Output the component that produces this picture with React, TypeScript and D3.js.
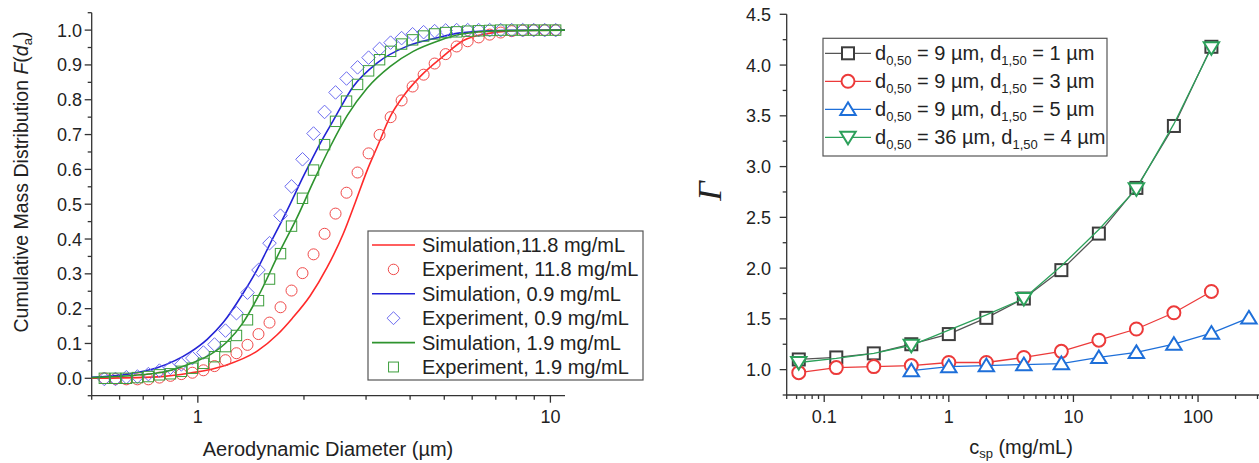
import React from 'react';
import * as d3 from 'd3';

// ---- left panel: cumulative mass distribution ----
const dExp = [0.543, 0.584, 0.627, 0.674, 0.724, 0.778, 0.836, 0.898, 0.965, 1.037, 1.115, 1.198, 1.287, 1.383,
  1.486, 1.597, 1.716, 1.844, 1.981, 2.129, 2.288, 2.458, 2.641, 2.838, 3.05, 3.277, 3.522, 3.784, 4.066, 4.369,
  4.695, 5.045, 5.421, 5.825, 6.259, 6.725, 7.227, 7.766, 8.344, 8.966, 9.634, 10.35];
const expRed = [0.0, -0.002, -0.003, -0.003, -0.003, 0.002, 0.007, 0.012, 0.016, 0.023, 0.035, 0.052, 0.072, 0.096,
  0.127, 0.16, 0.204, 0.252, 0.302, 0.356, 0.415, 0.473, 0.533, 0.591, 0.646, 0.699, 0.75, 0.798, 0.838, 0.872,
  0.904, 0.931, 0.953, 0.968, 0.979, 0.987, 0.993, 0.997, 0.999, 1.0, 1.0, 1.0];
const expBlue = [-0.002, -0.002, 0.003, 0.005, 0.012, 0.022, 0.03, 0.04, 0.058, 0.074, 0.097, 0.137, 0.187, 0.246,
  0.311, 0.388, 0.467, 0.551, 0.629, 0.703, 0.765, 0.821, 0.861, 0.893, 0.921, 0.946, 0.964, 0.977, 0.988, 0.994,
  0.997, 0.999, 1.0, 1.0, 1.0, 1.0, 1.0, 1.0, 1.0, 1.0, 1.0, 1.0];
const expGreen = [0.0, 0.0, 0.0, 0.002, 0.005, 0.01, 0.013, 0.02, 0.029, 0.043, 0.062, 0.091, 0.123, 0.168,
  0.223, 0.285, 0.358, 0.437, 0.517, 0.598, 0.671, 0.738, 0.796, 0.844, 0.883, 0.915, 0.939, 0.96, 0.972, 0.983,
  0.989, 0.993, 0.995, 0.997, 0.998, 0.999, 1.0, 1.0, 1.0, 1.0, 1.0, 1.0];

const simRedX = [0.5, 0.767, 0.951, 1.195, 1.483, 1.679, 1.852, 2.083, 2.328, 2.585, 2.796, 3.024, 3.228, 3.515,
  3.825, 4.276, 4.969, 5.663, 6.625, 8.22, 11.0];
const simRedY = [0.0, 0.004, 0.015, 0.037, 0.08, 0.125, 0.172, 0.237, 0.319, 0.415, 0.505, 0.598, 0.665, 0.752,
  0.81, 0.867, 0.925, 0.97, 0.99, 0.999, 1.0];
const simBlueX = [0.5, 0.614, 0.767, 0.951, 1.063, 1.18, 1.336, 1.474, 1.604, 1.793, 1.99, 2.224, 2.421, 2.76,
  3.228, 3.926, 4.778, 5.553, 7.211, 11.0];
const simBlueY = [0.003, 0.01, 0.03, 0.075, 0.112, 0.16, 0.24, 0.313, 0.387, 0.483, 0.579, 0.675, 0.74, 0.838,
  0.906, 0.954, 0.978, 0.992, 0.999, 1.0];
const simGreenX = [0.5, 0.767, 0.951, 1.084, 1.211, 1.344, 1.483, 1.713, 1.914, 2.125, 2.374, 2.654, 3.024, 3.515,
  4.083, 4.778, 5.553, 7.211, 11.0];
const simGreenY = [0.002, 0.015, 0.042, 0.068, 0.105, 0.16, 0.235, 0.367, 0.463, 0.564, 0.665, 0.755, 0.834, 0.896,
  0.939, 0.968, 0.988, 0.998, 1.0];

const leftLabels = ['Simulation,11.8 mg/mL', 'Experiment, 11.8 mg/mL', 'Simulation, 0.9 mg/mL',
  'Experiment, 0.9 mg/mL', 'Simulation, 1.9 mg/mL', 'Experiment, 1.9 mg/mL'];
const leftYTicks = [0, 0.1, 0.2, 0.3, 0.4, 0.5, 0.6, 0.7, 0.8, 0.9, 1.0];
const leftXTicks = [1, 10];

// ---- right panel: Gamma vs c_sp ----
const csp = [0.0625, 0.125, 0.25, 0.5, 1, 2, 4, 8, 16, 32, 64, 128, 256];
const gamma9_1 = [1.1, 1.12, 1.16, 1.25, 1.35, 1.51, 1.7, 1.98, 2.34, 2.79, 3.4, 4.18];
const gamma9_3 = [0.97, 1.02, 1.03, 1.04, 1.07, 1.07, 1.12, 1.18, 1.29, 1.4, 1.56, 1.77];
const gamma9_5 = [0.99, 1.03, 1.04, 1.05, 1.06, 1.12, 1.17, 1.25, 1.36, 1.51]; // from 0.5 mg/mL
const gamma36_4 = [1.07, 1.11, 1.16, 1.24, 1.39, 1.54, 1.7, 2.02, 2.38, 2.78, 3.42, 4.17];
const gamma36Marks = [0, 3, 6, 9, 11];
const rightYTicks = [1.0, 1.5, 2.0, 2.5, 3.0, 3.5, 4.0, 4.5];
const rightXTicks = [0.1, 1, 10, 100];
const rightLabels = [['0,50', '9', '1,50', '1'], ['0,50', '9', '1,50', '3'], ['0,50', '9', '1,50', '5'],
  ['0,50', '36', '1,50', '4']];

const SANS = '"Liberation Sans", Arial, sans-serif';

const xL = d3.scaleLog().domain([0.5, 11]).range([91.7, 565]);
const yL = d3.scaleLinear().domain([-0.05, 1.05]).range([395.7, 12.7]);
const xR = d3.scaleLog().domain([0.05, 300]).range([786.7, 1257.5]);
const yR = d3.scaleLinear().domain([0.75, 4.5]).range([395, 14.3]);

function Marker({ shape, x, y, color, s, sw = 1, fill = 'none' }) {
  if (shape === 'circle') return <circle cx={x} cy={y} r={s} fill={fill} stroke={color} strokeWidth={sw} />;
  if (shape === 'square')
    return <rect x={x - s} y={y - s} width={2 * s} height={2 * s} fill={fill} stroke={color} strokeWidth={sw} />;
  let p = '';
  if (shape === 'diamond') p = `M${x},${y - s}L${x + s},${y}L${x},${y + s}L${x - s},${y}Z`;
  if (shape === 'up') p = `M${x},${y - s}L${x + s * 1.1},${y + s * 0.8}L${x - s * 1.1},${y + s * 0.8}Z`;
  if (shape === 'down') p = `M${x},${y + s}L${x + s * 1.1},${y - s * 0.8}L${x - s * 1.1},${y - s * 0.8}Z`;
  return <path d={p} fill={fill} stroke={color} strokeWidth={sw} strokeLinejoin="miter" />;
}

export default function App() {
  const simLine = (xs, ys) =>
    d3.line<number>().x((_, i) => xL(xs[i])).y(v => yL(v)).curve(d3.curveMonotoneX)(ys);
  const rLine = (xs, ys) => d3.line<number>().x((_, i) => xR(xs[i])).y(v => yR(v))(ys);

  const leftMinorX = [0.5, 0.6, 0.7, 0.8, 0.9, 2, 3, 4, 5, 6, 7, 8, 9];
  const leftMinorY = d3.range(-0.05, 1.06, 0.1);
  const rightMinorX = [0.05, 0.06, 0.07, 0.08, 0.09, 0.2, 0.3, 0.4, 0.5, 0.6, 0.7, 0.8, 0.9, 2, 3, 4, 5, 6, 7, 8, 9,
    20, 30, 40, 50, 60, 70, 80, 90, 200, 300];
  const rightMinorY = d3.range(0.75, 4.3, 0.5);

  const sims = [
    { xs: simRedX, ys: simRedY, c: '#ff2a2a' },
    { xs: simBlueX, ys: simBlueY, c: '#2323d6' },
    { xs: simGreenX, ys: simGreenY, c: '#2e932e' },
  ];
  const exps = [
    { ys: expRed, c: '#f04a4a', shape: 'circle', s: 5.5 },
    { ys: expBlue, c: '#6b6bf0', shape: 'diamond', s: 6.8 },
    { ys: expGreen, c: '#3c9e3c', shape: 'square', s: 5.2 },
  ];
  const axisC = '#333';

  const rSeries = [
    { xs: csp.slice(0, 12), ys: gamma9_1, c: '#3d3d3d', lc: '#555', shape: 'square', s: 6, marks: d3.range(12) },
    { xs: csp.slice(0, 12), ys: gamma9_3, c: '#ec3a3a', lc: '#ec3a3a', shape: 'circle', s: 6.5, marks: d3.range(12) },
    { xs: csp.slice(3), ys: gamma9_5, c: '#1e6fd9', lc: '#1e6fd9', shape: 'up', s: 7, marks: d3.range(10) },
    { xs: csp.slice(0, 12), ys: gamma36_4, c: '#2ca05a', lc: '#2ca05a', shape: 'down', s: 7, marks: gamma36Marks },
  ];

  return (
    <svg width={1259} height={463} style={{ position: 'absolute', left: 0, top: 0, background: '#fff' }}
      fontFamily={SANS}>
      <rect width={1259} height={463} fill="#fff" />
      {/* ===== left panel ===== */}
      <g>
        <line x1={91.7} x2={91.7} y1={12.7} y2={395.7} stroke={axisC} strokeWidth={1.3} />
        <line x1={91.7} x2={565} y1={395.7} y2={395.7} stroke={axisC} strokeWidth={1.3} />
        {leftYTicks.map(t => (
          <g key={t}>
            <line x1={84.7} x2={91.7} y1={yL(t)} y2={yL(t)} stroke={axisC} strokeWidth={1.3} />
            <text x={82} y={yL(t) + 6.5} fontSize={18} textAnchor="end" fill="#222">{t.toFixed(1)}</text>
          </g>
        ))}
        {leftMinorY.map(t => (
          <line key={t} x1={87.7} x2={91.7} y1={yL(t)} y2={yL(t)} stroke={axisC} strokeWidth={1.3} />
        ))}
        {leftXTicks.map(t => (
          <g key={t}>
            <line x1={xL(t)} x2={xL(t)} y1={395.7} y2={402.7} stroke={axisC} strokeWidth={1.3} />
            <text x={xL(t)} y={423} fontSize={18} textAnchor="middle" fill="#222">{t}</text>
          </g>
        ))}
        {leftMinorX.map(t => (
          <line key={t} x1={xL(t)} x2={xL(t)} y1={395.7} y2={399.7} stroke={axisC} strokeWidth={1.3} />
        ))}
        <text x={328} y={456} fontSize={20} textAnchor="middle" fill="#222">Aerodynamic Diameter (µm)</text>
        <text transform="translate(28,182) rotate(-90)" fontSize={19.5} textAnchor="middle" fill="#222">
          Cumulative Mass Distribution <tspan fontStyle="italic">F</tspan>(<tspan fontStyle="italic">d</tspan>
          <tspan fontSize={13} dy={4}>a</tspan><tspan dy={-4}>)</tspan>
        </text>

        {sims.map((s, k) => (
          <g key={k}>
            <path d={simLine(s.xs, s.ys)} fill="none" stroke={s.c} strokeWidth={1.6} />
            {dExp.map((x, i) => (
              <Marker key={i} shape={exps[k].shape} x={xL(x)} y={yL(exps[k].ys[i])} color={exps[k].c} s={exps[k].s} />
            ))}
          </g>
        ))}

        {/* legend */}
        <rect x={368} y={231} width={275} height={149} fill="#fff" stroke="#555" strokeWidth={1.2} />
        {leftLabels.map((lab, i) => {
          const cy = 245 + i * 24.4;
          const k = Math.floor(i / 2);
          return (
            <g key={lab}>
              {i % 2 === 0 ? (
                <line x1={372} x2={415} y1={cy} y2={cy} stroke={sims[k].c} strokeWidth={1.6} />
              ) : (
                <Marker shape={exps[k].shape} x={393.5} y={cy} color={exps[k].c} s={exps[k].s * 0.95} />
              )}
              <text x={422} y={cy + 7} fontSize={20} fill="#222">{lab}</text>
            </g>
          );
        })}
      </g>

      {/* ===== right panel ===== */}
      <g>
        <line x1={786.7} x2={786.7} y1={14.3} y2={395} stroke={axisC} strokeWidth={1.3} />
        <line x1={786.7} x2={1259} y1={395} y2={395} stroke={axisC} strokeWidth={1.3} />
        {rightYTicks.map(t => (
          <g key={t}>
            <line x1={779.7} x2={786.7} y1={yR(t)} y2={yR(t)} stroke={axisC} strokeWidth={1.3} />
            <text x={771} y={yR(t) + 6.5} fontSize={18} textAnchor="end" fill="#222">{t.toFixed(1)}</text>
          </g>
        ))}
        {rightMinorY.map(t => (
          <line key={t} x1={782.7} x2={786.7} y1={yR(t)} y2={yR(t)} stroke={axisC} strokeWidth={1.3} />
        ))}
        {rightXTicks.map(t => (
          <g key={t}>
            <line x1={xR(t)} x2={xR(t)} y1={395} y2={402} stroke={axisC} strokeWidth={1.3} />
            <text x={xR(t)} y={423} fontSize={18} textAnchor="middle" fill="#222">{t}</text>
          </g>
        ))}
        {rightMinorX.map(t => (
          <line key={t} x1={xR(t)} x2={xR(t)} y1={395} y2={399} stroke={axisC} strokeWidth={1.3} />
        ))}
        <text x={1021} y={454} fontSize={20} textAnchor="middle" fill="#222">
          c<tspan fontSize={13} dy={4}>sp</tspan><tspan dy={-4}> (mg/mL)</tspan>
        </text>
        <text transform="translate(721,191) rotate(-90)" fontSize={34} textAnchor="middle"
          fontFamily='"Liberation Serif", "Times New Roman", serif' fontStyle="italic" fill="#222">Γ</text>

        {rSeries.map((s, k) => (
          <g key={k}>
            <path d={rLine(s.xs, s.ys)} fill="none" stroke={s.lc} strokeWidth={1.3} />
            {s.marks.map(i => (
              <Marker key={i} shape={s.shape} x={xR(s.xs[i])} y={yR(s.ys[i])} color={s.c} s={s.s} sw={2} fill="#fff" />
            ))}
          </g>
        ))}

        {/* legend */}
        <rect x={823} y={38.3} width={284} height={117.7} fill="#fff" stroke="#555" strokeWidth={1.2} />
        {rightLabels.map((lab, i) => {
          const cy = 53.3 + i * 28;
          const s = rSeries[i];
          return (
            <g key={i}>
              <line x1={825} x2={871} y1={cy} y2={cy} stroke={s.lc} strokeWidth={1.3} />
              <Marker shape={s.shape} x={848} y={cy} color={s.c} s={s.s} sw={2} fill="#fff" />
              <text x={875} y={cy + 7} fontSize={20} fill="#222">
                d<tspan fontSize={13} dy={5}>{lab[0]}</tspan>
                <tspan dy={-5}>{` = ${lab[1]} µm, d`}</tspan>
                <tspan fontSize={13} dy={5}>{lab[2]}</tspan>
                <tspan dy={-5}>{` = ${lab[3]} µm`}</tspan>
              </text>
            </g>
          );
        })}
      </g>
    </svg>
  );
}
